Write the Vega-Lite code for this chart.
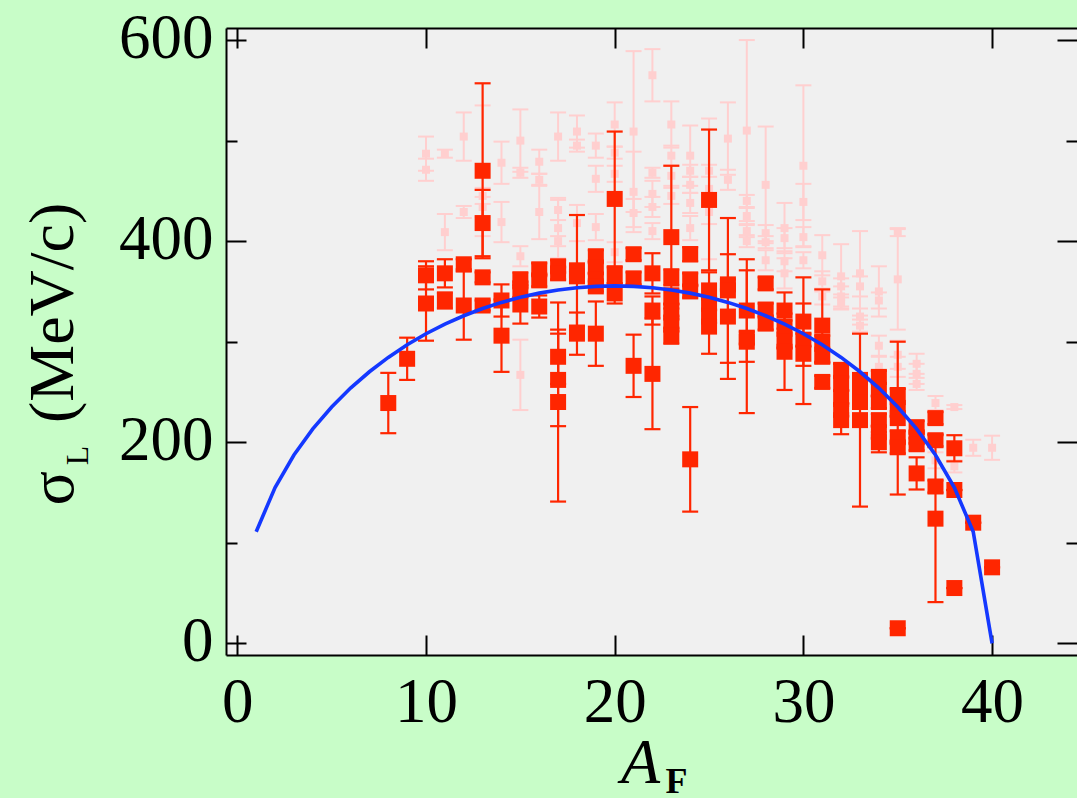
{
  "$schema": "https://vega.github.io/schema/vega-lite/v6.json",
  "width": 851,
  "height": 627,
  "autosize": {"type": "none"},
  "padding": {"left": 226, "top": 28, "right": 0, "bottom": 143},
  "background": "#c8fdc8",
  "config": {
    "view": {"fill": "#f0f0f0", "stroke": null},
    "axis": {"grid": false, "domain": false, "domainColor": "#000000", "domainWidth": 2, "labelFont": "Liberation Serif", "titleFont": "Liberation Serif", "labelColor": "#000000", "titleColor": "#000000", "tickColor": "#000000", "tickWidth": 2, "labelFlush": false, "labelOverlap": false, "titleFontWeight": "normal"}
  },
  "resolve": {"axis": {"x": "independent", "y": "independent"}},
  "datasets": {
    "pale": [
      {"x":10,"y":487,"lo":470,"hi":504},{"x":10,"y":471,"lo":460,"hi":482},
      {"x":11,"y":487,"lo":483,"hi":491},{"x":11,"y":409,"lo":391,"hi":427},
      {"x":12,"y":504,"lo":480,"hi":528},{"x":12,"y":429,"lo":423,"hi":435},
      {"x":13,"y":470,"lo":405,"hi":535},{"x":13,"y":445,"lo":437,"hi":453},{"x":13,"y":434,"lo":424,"hi":444},
      {"x":14,"y":478,"lo":457,"hi":499},{"x":14,"y":419,"lo":399,"hi":439},
      {"x":15,"y":500,"lo":469,"hi":531},{"x":15,"y":468,"lo":463,"hi":473},{"x":15,"y":385,"lo":375,"hi":395},{"x":15,"y":267,"lo":232,"hi":302},
      {"x":16,"y":479,"lo":467,"hi":491},{"x":16,"y":461,"lo":455,"hi":467},{"x":16,"y":429,"lo":402,"hi":456},
      {"x":17,"y":504,"lo":480,"hi":528},{"x":17,"y":431,"lo":421,"hi":441},{"x":17,"y":413,"lo":383,"hi":443},{"x":17,"y":400,"lo":395,"hi":405},
      {"x":18,"y":509,"lo":493,"hi":525},{"x":18,"y":495,"lo":489,"hi":501},{"x":18,"y":418,"lo":400,"hi":436},
      {"x":19,"y":495,"lo":483,"hi":507},{"x":19,"y":462,"lo":449,"hi":475},{"x":19,"y":414,"lo":401,"hi":427},
      {"x":20,"y":516,"lo":494,"hi":538},{"x":20,"y":488,"lo":482,"hi":494},{"x":20,"y":467,"lo":459,"hi":475},{"x":20,"y":389,"lo":379,"hi":399},
      {"x":21,"y":509,"lo":429,"hi":589},{"x":21,"y":449,"lo":409,"hi":489},{"x":21,"y":428,"lo":414,"hi":442},
      {"x":22,"y":565,"lo":539,"hi":591},{"x":22,"y":468,"lo":463,"hi":473},{"x":22,"y":447,"lo":434,"hi":460},{"x":22,"y":434,"lo":424,"hi":444},{"x":22,"y":410,"lo":402,"hi":418},
      {"x":23,"y":516,"lo":493,"hi":539},{"x":23,"y":485,"lo":475,"hi":495},{"x":23,"y":465,"lo":455,"hi":475},{"x":23,"y":445,"lo":437,"hi":453},
      {"x":24,"y":485,"lo":455,"hi":515},{"x":24,"y":470,"lo":464,"hi":476},{"x":24,"y":456,"lo":448,"hi":464},{"x":24,"y":438,"lo":428,"hi":448},{"x":24,"y":413,"lo":401,"hi":425},
      {"x":25,"y":452,"lo":382,"hi":522},{"x":25,"y":470,"lo":464,"hi":476},{"x":25,"y":429,"lo":417,"hi":441},
      {"x":26,"y":502,"lo":466,"hi":538},{"x":26,"y":461,"lo":451,"hi":471},
      {"x":27,"y":510,"lo":420,"hi":600},{"x":27,"y":440,"lo":434,"hi":446},{"x":27,"y":425,"lo":417,"hi":433},{"x":27,"y":410,"lo":404,"hi":416},{"x":27,"y":400,"lo":394,"hi":406},
      {"x":28,"y":456,"lo":398,"hi":514},{"x":28,"y":408,"lo":400,"hi":416},{"x":28,"y":399,"lo":393,"hi":405},{"x":28,"y":381,"lo":371,"hi":391},
      {"x":29,"y":413,"lo":388,"hi":438},{"x":29,"y":403,"lo":393,"hi":413},{"x":29,"y":380,"lo":370,"hi":390},{"x":29,"y":368,"lo":353,"hi":383},
      {"x":30,"y":475,"lo":395,"hi":555},{"x":30,"y":439,"lo":421,"hi":457},{"x":30,"y":404,"lo":394,"hi":414},{"x":30,"y":381,"lo":373,"hi":389},
      {"x":31,"y":386,"lo":366,"hi":406},{"x":31,"y":360,"lo":350,"hi":370},{"x":31,"y":345,"lo":337,"hi":353},
      {"x":32,"y":365,"lo":333,"hi":397},{"x":32,"y":355,"lo":347,"hi":363},{"x":32,"y":345,"lo":335,"hi":355},{"x":32,"y":338,"lo":332,"hi":344},
      {"x":33,"y":368,"lo":326,"hi":410},{"x":33,"y":355,"lo":345,"hi":365},{"x":33,"y":325,"lo":317,"hi":333},{"x":33,"y":316,"lo":310,"hi":322},
      {"x":34,"y":350,"lo":325,"hi":375},{"x":34,"y":341,"lo":333,"hi":349},{"x":34,"y":296,"lo":286,"hi":306},{"x":34,"y":275,"lo":265,"hi":285},
      {"x":35,"y":362,"lo":312,"hi":412},{"x":35,"y":409,"lo":405,"hi":413},{"x":35,"y":287,"lo":273,"hi":301},{"x":35,"y":275,"lo":265,"hi":285},
      {"x":36,"y":278,"lo":268,"hi":288},{"x":36,"y":268,"lo":258,"hi":278},{"x":36,"y":258,"lo":252,"hi":264},
      {"x":37,"y":239,"lo":232,"hi":246},{"x":37,"y":182,"lo":174,"hi":190},
      {"x":38,"y":235,"lo":233,"hi":237},{"x":38,"y":176,"lo":170,"hi":182},
      {"x":39,"y":194.5,"lo":186.5,"hi":202.5},
      {"x":40,"y":194.5,"lo":182.5,"hi":206.5}
    ],
    "red": [
      {"x":8,"y":239,"lo":209,"hi":269},
      {"x":9,"y":283,"lo":262,"hi":304},
      {"x":10,"y":366,"lo":352,"hi":380},{"x":10,"y":338,"lo":301,"hi":375},
      {"x":11,"y":368,"lo":354,"hi":382},{"x":11,"y":341,"lo":333,"hi":349},
      {"x":12,"y":377,"lo":372,"hi":382},{"x":12,"y":336,"lo":302,"hi":370},
      {"x":13,"y":470,"lo":383,"hi":557},{"x":13,"y":418,"lo":385,"hi":451},{"x":13,"y":364,"lo":359,"hi":369},{"x":13,"y":336,"lo":331,"hi":341},
      {"x":14,"y":341,"lo":325,"hi":357},{"x":14,"y":306,"lo":270,"hi":342},
      {"x":15,"y":361,"lo":353,"hi":369},{"x":15,"y":352,"lo":344,"hi":360},{"x":15,"y":337,"lo":318,"hi":356},
      {"x":16,"y":372,"lo":366,"hi":378},{"x":16,"y":361,"lo":355,"hi":367},{"x":16,"y":335,"lo":324,"hi":346},
      {"x":17,"y":375,"lo":369,"hi":381},{"x":17,"y":368,"lo":362,"hi":374},{"x":17,"y":285,"lo":258,"hi":312},{"x":17,"y":262,"lo":216,"hi":308},{"x":17,"y":240,"lo":141,"hi":339},
      {"x":18,"y":371,"lo":316,"hi":426},{"x":18,"y":365,"lo":360,"hi":370},{"x":18,"y":308,"lo":287,"hi":329},
      {"x":19,"y":385,"lo":379,"hi":391},{"x":19,"y":374,"lo":368,"hi":380},{"x":19,"y":362,"lo":356,"hi":368},{"x":19,"y":355,"lo":350,"hi":360},{"x":19,"y":308,"lo":276,"hi":340},
      {"x":20,"y":442,"lo":375,"hi":509},{"x":20,"y":366,"lo":358,"hi":374},{"x":20,"y":348,"lo":338,"hi":358},
      {"x":21,"y":387,"lo":381,"hi":393},{"x":21,"y":363,"lo":357,"hi":369},{"x":21,"y":276,"lo":245,"hi":307},
      {"x":22,"y":368,"lo":348,"hi":388},{"x":22,"y":331,"lo":317,"hi":345},{"x":22,"y":268,"lo":213,"hi":323},
      {"x":23,"y":404,"lo":333,"hi":475},{"x":23,"y":364,"lo":356,"hi":372},{"x":23,"y":345,"lo":337,"hi":353},{"x":23,"y":330,"lo":322,"hi":338},{"x":23,"y":318,"lo":310,"hi":326},{"x":23,"y":306,"lo":298,"hi":314},
      {"x":24,"y":387,"lo":380,"hi":394},{"x":24,"y":362,"lo":356,"hi":368},{"x":24,"y":350,"lo":344,"hi":356},{"x":24,"y":183,"lo":131,"hi":235},
      {"x":25,"y":441,"lo":371,"hi":511},{"x":25,"y":351,"lo":333,"hi":369},{"x":25,"y":338,"lo":332,"hi":344},{"x":25,"y":325,"lo":319,"hi":331},{"x":25,"y":315,"lo":288,"hi":342},
      {"x":26,"y":357,"lo":352,"hi":362},{"x":26,"y":351,"lo":279,"hi":423},{"x":26,"y":325,"lo":263,"hi":387},
      {"x":27,"y":331,"lo":280,"hi":382},{"x":27,"y":304,"lo":298,"hi":310},{"x":27,"y":300,"lo":229,"hi":371},
      {"x":28,"y":358,"lo":352,"hi":364},{"x":28,"y":332,"lo":326,"hi":338},{"x":28,"y":318,"lo":312,"hi":324},
      {"x":29,"y":331,"lo":313,"hi":349},{"x":29,"y":315,"lo":309,"hi":321},{"x":29,"y":300,"lo":294,"hi":306},{"x":29,"y":290,"lo":252,"hi":328},
      {"x":30,"y":320,"lo":276,"hi":364},{"x":30,"y":302,"lo":296,"hi":308},{"x":30,"y":288,"lo":238,"hi":338},
      {"x":31,"y":316,"lo":280,"hi":352},{"x":31,"y":300,"lo":294,"hi":306},{"x":31,"y":285,"lo":279,"hi":291},{"x":31,"y":260,"lo":254,"hi":266},
      {"x":32,"y":272,"lo":266,"hi":278},{"x":32,"y":258,"lo":252,"hi":264},{"x":32,"y":245,"lo":239,"hi":251},{"x":32,"y":232,"lo":226,"hi":238},{"x":32,"y":222,"lo":208,"hi":236},
      {"x":33,"y":262,"lo":256,"hi":268},{"x":33,"y":250,"lo":244,"hi":256},{"x":33,"y":240,"lo":234,"hi":246},{"x":33,"y":222,"lo":136,"hi":308},
      {"x":34,"y":265,"lo":259,"hi":271},{"x":34,"y":252,"lo":246,"hi":258},{"x":34,"y":240,"lo":234,"hi":246},{"x":34,"y":222,"lo":216,"hi":228},{"x":34,"y":210,"lo":204,"hi":216},{"x":34,"y":200,"lo":190,"hi":210},
      {"x":35,"y":247,"lo":241,"hi":253},{"x":35,"y":232,"lo":226,"hi":238},{"x":35,"y":224,"lo":148,"hi":300},{"x":35,"y":205,"lo":199,"hi":211},{"x":35,"y":195,"lo":189,"hi":201},{"x":35,"y":15,"lo":15,"hi":15},
      {"x":36,"y":215,"lo":209,"hi":221},{"x":36,"y":205,"lo":199,"hi":211},{"x":36,"y":198,"lo":192,"hi":204},{"x":36,"y":169,"lo":153,"hi":185},
      {"x":37,"y":224,"lo":218,"hi":230},{"x":37,"y":202,"lo":196,"hi":208},{"x":37,"y":156,"lo":150,"hi":162},{"x":37,"y":124,"lo":41,"hi":207},
      {"x":38,"y":194,"lo":181,"hi":207},{"x":38,"y":152.5,"lo":152.5,"hi":152.5},{"x":38,"y":55,"lo":55,"hi":55},
      {"x":39,"y":120,"lo":120,"hi":120},
      {"x":40,"y":75.6,"lo":75.6,"hi":75.6}
    ],
    "curve": [
      {"x":1,"y":111},{"x":2,"y":155},{"x":3,"y":187.3},{"x":4,"y":213.3},{"x":5,"y":235.1},
      {"x":6,"y":253.9},{"x":7,"y":270.1},{"x":8,"y":284.4},{"x":9,"y":296.9},{"x":10,"y":307.9},
      {"x":11,"y":317.5},{"x":12,"y":325.8},{"x":13,"y":333},{"x":14,"y":339.1},{"x":15,"y":344.2},
      {"x":16,"y":348.3},{"x":17,"y":351.5},{"x":18,"y":353.7},{"x":19,"y":355},{"x":20,"y":355.5},
      {"x":21,"y":355},{"x":22,"y":353.7},{"x":23,"y":351.5},{"x":24,"y":348.3},{"x":25,"y":344.2},
      {"x":26,"y":339.1},{"x":27,"y":333},{"x":28,"y":325.8},{"x":29,"y":317.5},{"x":30,"y":307.9},
      {"x":31,"y":296.9},{"x":32,"y":284.4},{"x":33,"y":270.1},{"x":34,"y":253.9},{"x":35,"y":235.1},
      {"x":36,"y":213.3},{"x":37,"y":187.3},{"x":38,"y":155},{"x":39,"y":111},{"x":40,"y":0}
    ]
  },
  "layer": [
    {
      "data": {"name": "pale"},
      "mark": {"type": "rule", "color": "#ffcfcf", "strokeWidth": 2, "opacity": 1},
      "encoding": {
        "x": {"field": "x", "type": "quantitative", "scale": {"domain": [-0.6, 44.5], "nice": false, "zero": false},
              "axis": {"orient": "bottom", "values": [0, 10, 20, 30, 40], "ticks": false, "tickSize": 0, "labelFontSize": 63, "labelPadding": 66, "labelBaseline": "alphabetic",
                       "title": "A", "titleFontSize": 64, "titleFontStyle": "italic", "titleX": 414, "titleY": 127, "titleAlign": "center", "titleBaseline": "alphabetic", "titleAngle": 0}},
        "y": {"field": "lo", "type": "quantitative", "scale": {"domain": [-11.6, 612], "nice": false, "zero": false},
              "axis": {"orient": "left", "values": [0, 200, 400, 600], "ticks": false, "tickSize": 0, "labelFontSize": 63, "labelPadding": 13, "labelOffset": -2,
                       "title": "σ\u00a0\u00a0\u00a0(MeV/c)", "titleFontSize": 64, "titleAngle": -90, "titleX": -154, "titleY": 477, "titleAlign": "left", "titleBaseline": "alphabetic"}},
        "y2": {"field": "hi"}
      }
    },
    {
      "data": {"name": "pale"},
      "mark": {"type": "tick", "orient": "horizontal", "color": "#ffcfcf", "size": 16, "thickness": 2, "opacity": 1},
      "encoding": {
        "x": {"field": "x", "type": "quantitative", "scale": {"domain": [-0.6, 44.5], "nice": false, "zero": false},
              "axis": {"orient": "bottom", "values": [0, 10, 20, 30, 40], "labels": false, "tickSize": -20, "title": null, "domain": true}},
        "y": {"field": "lo", "type": "quantitative", "scale": {"domain": [-11.6, 612], "nice": false, "zero": false},
              "axis": {"orient": "left", "values": [0, 200, 400, 600], "labels": false, "tickSize": -20, "title": null, "domain": true}}
      }
    },
    {
      "data": {"name": "pale"},
      "mark": {"type": "tick", "orient": "horizontal", "color": "#ffcfcf", "size": 16, "thickness": 2, "opacity": 1},
      "encoding": {
        "x": {"field": "x", "type": "quantitative", "scale": {"domain": [-0.6, 44.5], "nice": false, "zero": false},
              "axis": {"orient": "top", "values": [0, 10, 20, 30, 40], "labels": false, "tickSize": -20, "title": null, "domain": true}},
        "y": {"field": "hi", "type": "quantitative", "scale": {"domain": [-11.6, 612], "nice": false, "zero": false},
              "axis": {"orient": "right", "values": [0, 200, 400, 600], "labels": false, "tickSize": -20, "title": null}}
      }
    },
    {
      "data": {"name": "pale"},
      "mark": {"type": "square", "color": "#ffcfcf", "size": 64, "filled": true, "opacity": 1},
      "encoding": {
        "x": {"field": "x", "type": "quantitative", "scale": {"domain": [-0.6, 44.5], "nice": false, "zero": false},
              "axis": {"orient": "bottom", "labels": false, "ticks": false, "tickSize": 0,
                       "title": "F", "titleFontSize": 36, "titleFontWeight": "bold", "titleX": 450, "titleY": 137, "titleAlign": "center", "titleBaseline": "alphabetic", "titleAngle": 0}},
        "y": {"field": "y", "type": "quantitative", "scale": {"domain": [-11.6, 612], "nice": false, "zero": false},
              "axis": {"orient": "left", "values": [100, 300, 500], "labels": false, "tickSize": -11,
                       "title": "L", "titleFontSize": 32, "titleAngle": -90, "titleX": -139, "titleY": 427, "titleAlign": "center", "titleBaseline": "alphabetic"}}
      }
    },
    {
      "data": {"name": "red"},
      "mark": {"type": "rule", "color": "#ff2600", "strokeWidth": 2.2, "opacity": 1},
      "encoding": {
        "x": {"field": "x", "type": "quantitative", "scale": {"domain": [-0.6, 44.5], "nice": false, "zero": false}, "axis": null},
        "y": {"field": "lo", "type": "quantitative", "scale": {"domain": [-11.6, 612], "nice": false, "zero": false},
              "axis": {"orient": "right", "values": [100, 300, 500], "labels": false, "tickSize": -11, "title": null}},
        "y2": {"field": "hi"}
      }
    },
    {
      "data": {"name": "red"},
      "mark": {"type": "tick", "orient": "horizontal", "color": "#ff2600", "size": 16, "thickness": 2.2, "opacity": 1},
      "encoding": {
        "x": {"field": "x", "type": "quantitative", "axis": null},
        "y": {"field": "lo", "type": "quantitative", "axis": null}
      }
    },
    {
      "data": {"name": "red"},
      "mark": {"type": "tick", "orient": "horizontal", "color": "#ff2600", "size": 16, "thickness": 2.2, "opacity": 1},
      "encoding": {
        "x": {"field": "x", "type": "quantitative", "axis": null},
        "y": {"field": "hi", "type": "quantitative", "axis": null}
      }
    },
    {
      "data": {"name": "red"},
      "mark": {"type": "square", "color": "#ff2600", "size": 256, "filled": true, "opacity": 1},
      "encoding": {
        "x": {"field": "x", "type": "quantitative", "axis": null},
        "y": {"field": "y", "type": "quantitative", "axis": null}
      }
    },
    {
      "data": {"name": "curve"},
      "mark": {"type": "line", "color": "#1438ff", "strokeWidth": 3.6, "opacity": 1},
      "encoding": {
        "x": {"field": "x", "type": "quantitative", "axis": null},
        "y": {"field": "y", "type": "quantitative", "axis": null}
      }
    }
  ]
}
